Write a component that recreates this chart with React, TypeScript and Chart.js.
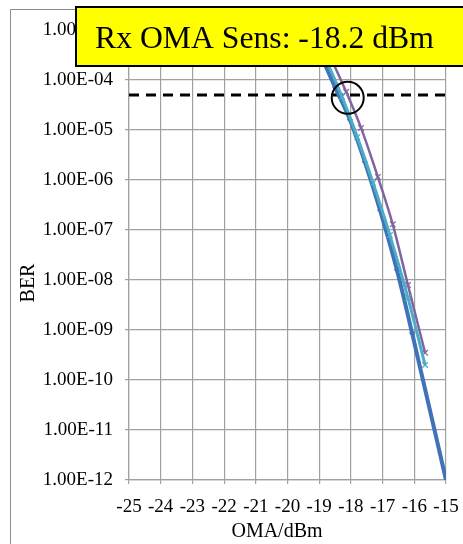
import React, { useEffect, useRef } from "react";
import { Chart, registerables } from "chart.js";

Chart.register(...registerables);

// OMA (dBm) and BER values
const blueOma = [-19.3, -18.5, -18.03, -17.56, -17.08, -16.55, -16.07, -15.0];
const blueBer = [1e-3, 7.2e-5, 1.6e-5, 2.3e-6, 2.5e-7, 1.6e-8, 8.7e-10, 1e-12];

const cyanOma = [-19.2, -18.28, -17.8, -17.3, -16.77, -16.2, -15.66];
const cyanBer = [1e-3, 4.6e-5, 7.2e-6, 8.7e-7, 7.9e-8, 4.4e-9, 2.0e-10];

const purpleOma = [-19.05, -18.15, -17.68, -17.15, -16.68, -16.2, -15.66];
const purpleBer = [1e-3, 5.8e-5, 1.1e-5, 1.15e-6, 1.3e-7, 7.9e-9, 3.5e-10];

const limitBer = 5e-5;
const limitOma = [-25, -15];
const sensPoint = { x: -18.1, y: 4.4e-5 };

const yTickValues = [1e-3, 1e-4, 1e-5, 1e-6, 1e-7, 1e-8, 1e-9, 1e-10, 1e-11, 1e-12];
const annotationText = "Rx OMA Sens: -18.2 dBm";
const xTitle = "OMA/dBm";
const yTitle = "BER";

const FONT = "'Liberation Serif', 'Times New Roman', serif";

function fmtBer(v: number): string {
  const e = Math.round(Math.log10(v));
  const sign = e < 0 ? "-" : "+";
  const abs = Math.abs(e);
  return "1.00E" + sign + (abs < 10 ? "0" + abs : String(abs));
}

const pts = (xs: number[], ys: number[]) => xs.map((x, i) => ({ x, y: ys[i] }));

const overlayPlugin = {
  id: "overlay",
  afterDatasetsDraw(chart: any) {
    const { ctx, scales } = chart;
    const xs = scales.x;
    const ys = scales.y;
    ctx.save();
    ctx.beginPath();
    ctx.arc(xs.getPixelForValue(sensPoint.x), ys.getPixelForValue(sensPoint.y), 16, 0, Math.PI * 2);
    ctx.strokeStyle = "#000";
    ctx.lineWidth = 2;
    ctx.stroke();
    ctx.restore();
  },
  afterDraw(chart: any) {
    const { ctx } = chart;
    ctx.save();
    // outer frame
    ctx.strokeStyle = "#8c8c8c";
    ctx.lineWidth = 1;
    ctx.beginPath();
    ctx.moveTo(10.5, 544);
    ctx.lineTo(10.5, 9.5);
    ctx.lineTo(463, 9.5);
    ctx.stroke();
    // axis titles
    ctx.fillStyle = "#000";
    ctx.font = "20px " + FONT;
    ctx.textAlign = "center";
    ctx.textBaseline = "middle";
    ctx.fillText(xTitle, 277, 532);
    ctx.save();
    ctx.translate(29, 283);
    ctx.rotate(-Math.PI / 2);
    ctx.fillText(yTitle, 0, 0);
    ctx.restore();
    // yellow annotation box
    ctx.fillStyle = "#ffff00";
    ctx.fillRect(76, 7, 400, 59);
    ctx.strokeStyle = "#000";
    ctx.lineWidth = 2;
    ctx.strokeRect(76, 7, 400, 59);
    ctx.fillStyle = "#000";
    ctx.font = "31.7px " + FONT;
    ctx.textAlign = "left";
    ctx.textBaseline = "alphabetic";
    ctx.fillText(annotationText, 95, 48);
    ctx.restore();
  },
};

export default function App() {
  const ref = useRef<HTMLCanvasElement | null>(null);
  useEffect(() => {
    if (!ref.current) return;
    const grid = { color: "#a0a0a0", lineWidth: 1.2, drawTicks: true, tickLength: 4, tickColor: "#a0a0a0" };
    const chart = new Chart(ref.current, {
      type: "scatter",
      data: {
        datasets: [
          {
            label: "cyan",
            data: pts(cyanOma, cyanBer),
            showLine: true,
            borderColor: "#4bacc6",
            backgroundColor: "#4bacc6",
            borderWidth: 3,
            pointStyle: "crossRot",
            pointRadius: cyanOma.map((_, i) => (i === 0 ? 0 : 4)),
            pointBorderWidth: 1.2,
            cubicInterpolationMode: "monotone",
          },
          {
            label: "blue",
            data: pts(blueOma, blueBer),
            showLine: true,
            borderColor: "#3f72b8",
            backgroundColor: "#3f72b8",
            borderWidth: 4,
            pointStyle: "rectRot",
            pointRadius: blueOma.map((_, i) => (i === 0 || i === blueOma.length - 1 ? 0 : 2.5)),
            pointBorderWidth: 1,
            cubicInterpolationMode: "monotone",
          },
          {
            label: "purple",
            data: pts(purpleOma, purpleBer),
            showLine: true,
            borderColor: "#8064a2",
            backgroundColor: "#8064a2",
            borderWidth: 2.5,
            pointStyle: "crossRot",
            pointRadius: purpleOma.map((_, i) => (i === 0 ? 0 : 4)),
            pointBorderWidth: 1.2,
            cubicInterpolationMode: "monotone",
          },
          {
            label: "limit",
            data: limitOma.map((x) => ({ x, y: limitBer })),
            showLine: true,
            borderColor: "#000",
            borderWidth: 3,
            borderDash: [10, 7],
            pointRadius: 0,
          },
        ],
      },
      options: {
        animation: false,
        responsive: false,
        events: [],
        layout: { padding: { left: 0, top: 30, right: 17, bottom: 0 } },
        plugins: { legend: { display: false }, tooltip: { enabled: false } },
        scales: {
          x: {
            type: "linear",
            min: -25,
            max: -15,
            grid,
            border: { color: "#a0a0a0", width: 1.2 },
            ticks: {
              stepSize: 1,
              padding: 12,
              color: "#000",
              font: { family: FONT, size: 19 },
              maxRotation: 0,
              autoSkip: false,
              callback: (v: any) => String(v),
            },
            afterFit: (s: any) => {
              s.height = 64;
              s.paddingLeft = 0;
              s.paddingRight = 0;
            },
          },
          y: {
            type: "logarithmic",
            min: 1e-12,
            max: 1e-3,
            grid,
            border: { color: "#a0a0a0", width: 1.2 },
            afterBuildTicks: (s: any) => {
              s.ticks = yTickValues.map((value) => ({ value }));
            },
            ticks: {
              padding: 12,
              color: "#000",
              font: { family: FONT, size: 19 },
              autoSkip: false,
              callback: (v: any) => fmtBer(Number(v)),
            },
            afterFit: (s: any) => {
              s.width = 129;
              s.paddingTop = 0;
              s.paddingBottom = 0;
            },
          },
        },
      } as any,
      plugins: [overlayPlugin],
    });
    return () => chart.destroy();
  }, []);
  return (
    <div style={{ position: "absolute", left: 0, top: 0, width: 463, height: 544, background: "#fff" }}>
      <canvas ref={ref} width={463} height={544} />
    </div>
  );
}
